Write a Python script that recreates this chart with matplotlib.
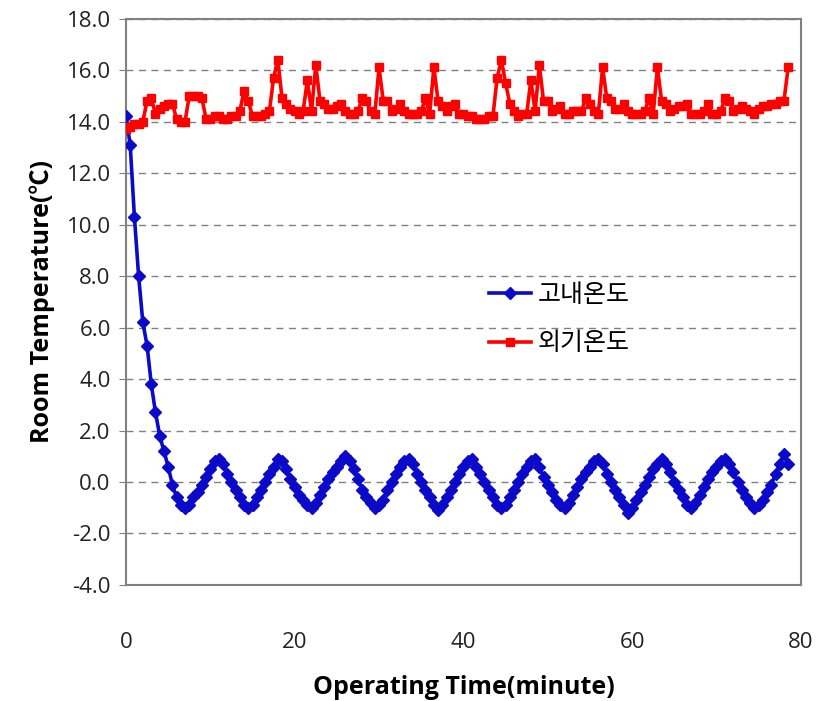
import numpy as np
import matplotlib
matplotlib.use("Agg")
import matplotlib.pyplot as plt

plt.rcParams['font.family'] = ['Open Sans', 'Noto Sans CJK KR', 'DejaVu Sans']

# Sampling time (minutes), one reading every 30 s
time_min = np.arange(0, 79, 0.5)

# Storage-room (inside) temperature
inside_temp = [
    14.2, 13.1, 10.3, 8.0, 6.2, 5.3, 3.8, 2.7, 1.8, 1.2, 0.6, -0.1, -0.6, -0.9,
    -1.0, -0.9, -0.6, -0.4, -0.1, 0.2, 0.5, 0.8, 0.9, 0.7, 0.3, 0.0, -0.3, -0.6,
    -0.9, -1.0, -0.9, -0.6, -0.3, 0.0, 0.3, 0.6, 0.9, 0.8, 0.5, 0.1, -0.2, -0.5,
    -0.7, -0.9, -1.0, -0.8, -0.5, -0.2, 0.1, 0.4, 0.6, 0.8, 1.0, 0.8, 0.5, 0.1,
    -0.3, -0.6, -0.8, -1.0, -0.9, -0.7, -0.3, 0.0, 0.3, 0.6, 0.8, 0.9, 0.7, 0.3,
    0.0, -0.3, -0.6, -0.9, -1.1, -0.9, -0.6, -0.3, 0.0, 0.3, 0.6, 0.8, 0.9, 0.6,
    0.3, 0.0, -0.3, -0.6, -0.9, -1.0, -0.9, -0.6, -0.3, 0.0, 0.3, 0.6, 0.8, 0.9,
    0.6, 0.2, -0.1, -0.4, -0.7, -0.9, -1.0, -0.8, -0.5, -0.2, 0.1, 0.4, 0.6, 0.8,
    0.9, 0.7, 0.3, 0.0, -0.3, -0.6, -0.9, -1.2, -1.0, -0.7, -0.4, -0.1, 0.2, 0.5,
    0.7, 0.9, 0.7, 0.4, 0.0, -0.3, -0.6, -0.9, -1.0, -0.8, -0.5, -0.2, 0.1, 0.4,
    0.6, 0.8, 0.9, 0.7, 0.4, 0.0, -0.3, -0.6, -0.8, -1.0, -0.9, -0.7, -0.4, -0.1,
    0.3, 0.7, 1.1, 0.7,
]

# Outside air temperature
outside_temp = [
    13.7, 13.8, 13.9, 13.9, 14.0, 14.8, 14.9, 14.3, 14.5, 14.6, 14.7, 14.7, 14.1, 14.0,
    14.0, 15.0, 15.0, 15.0, 14.9, 14.1, 14.1, 14.2, 14.2, 14.1, 14.1, 14.2, 14.2, 14.4,
    15.2, 14.8, 14.2, 14.2, 14.2, 14.3, 14.4, 15.7, 16.4, 14.9, 14.7, 14.5, 14.4, 14.3,
    14.4, 15.6, 14.4, 16.2, 14.8, 14.7, 14.5, 14.5, 14.6, 14.7, 14.4, 14.3, 14.3, 14.4,
    14.9, 14.8, 14.4, 14.3, 16.1, 14.8, 14.8, 14.4, 14.5, 14.7, 14.4, 14.3, 14.3, 14.3,
    14.4, 14.9, 14.3, 16.1, 14.8, 14.6, 14.4, 14.6, 14.7, 14.3, 14.3, 14.2, 14.2, 14.1,
    14.1, 14.1, 14.2, 14.2, 15.7, 16.4, 15.5, 14.7, 14.4, 14.2, 14.3, 14.3, 15.6, 14.4,
    16.2, 14.8, 14.8, 14.4, 14.5, 14.6, 14.3, 14.3, 14.4, 14.4, 14.4, 14.9, 14.7, 14.4,
    14.3, 16.1, 14.9, 14.8, 14.5, 14.5, 14.7, 14.4, 14.3, 14.3, 14.3, 14.4, 14.9, 14.3,
    16.1, 14.8, 14.7, 14.4, 14.5, 14.6, 14.6, 14.7, 14.3, 14.3, 14.3, 14.4, 14.7, 14.3,
    14.3, 14.4, 14.9, 14.8, 14.4, 14.5, 14.6, 14.5, 14.4, 14.3, 14.5, 14.6, 14.6, 14.7,
    14.7, 14.8, 14.8, 16.1,
]

series_labels = ['고내온도', '외기온도']
x_ticks = [0, 20, 40, 60, 80]
y_ticks = np.arange(-4, 18.1, 2)

fig = plt.figure(figsize=(8.18, 7.01), dpi=100)
ax = fig.add_axes([0.154, 0.1655, 0.825, 0.808])

ax.plot(time_min, inside_temp, color='#0A0AC8', lw=2.6, marker='D', ms=6.5,
        label=series_labels[0], zorder=3)
ax.plot(time_min, outside_temp, color='#FF0000', lw=2.6, marker='s', ms=5.5,
        label=series_labels[1], zorder=3)

ax.set_xlim(0, 80)
ax.set_ylim(-4, 18)
ax.set_xticks(x_ticks)
ax.set_yticks(y_ticks)
ax.set_yticklabels([f'{v:.1f}' for v in y_ticks])

ax.yaxis.grid(True, color='#808080', linestyle=(0, (5, 4)), lw=1.0)
ax.set_axisbelow(True)
for s in ax.spines.values():
    s.set_color('#808080')
    s.set_linewidth(1.5)

ax.tick_params(axis='y', direction='out', length=5, color='#808080',
               labelsize=16, pad=6, labelcolor='#222222')
ax.tick_params(axis='x', length=0, labelsize=16, pad=34, labelcolor='#222222')

ax.set_xlabel('Operating Time(minute)', fontsize=18, fontweight='bold', labelpad=16)
ax.set_ylabel('Room Temperature(℃)', fontsize=18, fontweight='bold', labelpad=8)

leg = ax.legend(loc='upper left', bbox_to_anchor=(0.505, 0.575), frameon=False,
                handlelength=1.65, handletextpad=0.3, labelspacing=0.9,
                prop={'family': ['Noto Sans CJK KR', 'DejaVu Sans'], 'size': 18})

fig.savefig('out.png', dpi=100)
